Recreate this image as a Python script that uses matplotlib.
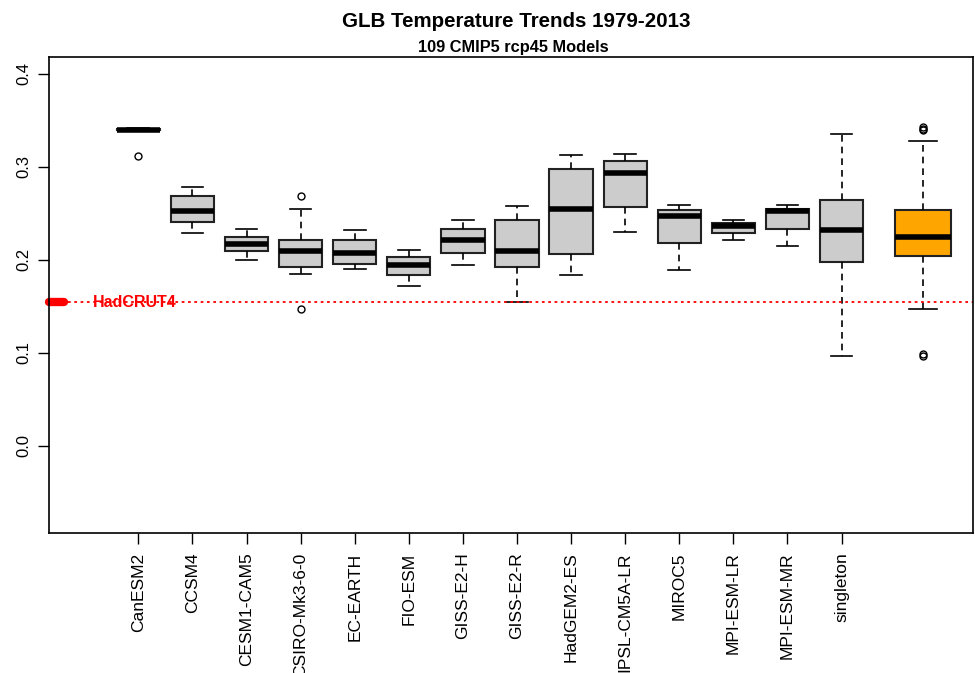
import matplotlib
matplotlib.use("Agg")
import matplotlib.pyplot as plt

plt.rcParams['font.family'] = ['Liberation Sans', 'DejaVu Sans']

# per-model trend summaries (deg C / decade)
models = ["CanESM2", "CCSM4", "CESM1-CAM5", "CSIRO-Mk3-6-0", "EC-EARTH", "FIO-ESM",
          "GISS-E2-H", "GISS-E2-R", "HadGEM2-ES", "IPSL-CM5A-LR", "MIROC5",
          "MPI-ESM-LR", "MPI-ESM-MR", "singleton"]
whislo = [0.3385, 0.229, 0.200, 0.185, 0.1905, 0.172, 0.194, 0.154, 0.183, 0.230, 0.189, 0.221, 0.215, 0.096]
q1 = [0.339, 0.241, 0.209, 0.192, 0.195, 0.183, 0.207, 0.192, 0.206, 0.257, 0.218, 0.2285, 0.233, 0.197]
med = [0.340, 0.252, 0.217, 0.209, 0.2075, 0.194, 0.221, 0.209, 0.255, 0.293, 0.247, 0.2365, 0.252, 0.232]
q3 = [0.341, 0.269, 0.2245, 0.221, 0.221, 0.203, 0.2335, 0.2425, 0.2975, 0.3065, 0.2535, 0.2395, 0.255, 0.264]
whishi = [0.342, 0.278, 0.2335, 0.254, 0.232, 0.2105, 0.2425, 0.2575, 0.313, 0.314, 0.259, 0.243, 0.259, 0.3355]
fliers = [[0.311], [], [], [0.268, 0.147], [], [], [], [], [], [], [], [], [], []]

# all 109 runs together
all_stats = dict(whislo=0.147, q1=0.204, med=0.224, q3=0.2535, whishi=0.328,
                 fliers=[0.343, 0.341, 0.339, 0.099, 0.096])

hadcrut = 0.154

fig = plt.figure(figsize=(9.75, 6.73), dpi=100)
ax = fig.add_axes([0.0503, 0.208, 0.9477, 0.7073])

stats = []
for i, m in enumerate(models):
    stats.append(dict(label=m, whislo=whislo[i], q1=q1[i], med=med[i], q3=q3[i],
                      whishi=whishi[i], fliers=fliers[i]))
pos = list(range(1, len(models) + 1))

common = dict(patch_artist=True, showfliers=True,
              whiskerprops=dict(color="black", lw=1.2, linestyle=(0, (4, 3))),
              capprops=dict(color="black", lw=1.2),
              medianprops=dict(color="black", lw=4, solid_capstyle="butt"),
              flierprops=dict(marker="o", markerfacecolor="none", markeredgecolor="black",
                              markersize=5, markeredgewidth=1))

ax.bxp(stats, positions=pos, widths=0.8, capwidths=0.4,
       boxprops=dict(facecolor="#cccccc", edgecolor="#222222", lw=1.5), **common)
all_stats["label"] = ""
ax.bxp([all_stats], positions=[15.5], widths=1.03, capwidths=0.515,
       boxprops=dict(facecolor="#FFA500", edgecolor="#222222", lw=1.5), **common)

ax.set_xlim(-0.65, 16.43)
ax.set_ylim(-0.094, 0.418)

# observed trend
ax.axhline(hadcrut, color="red", lw=1.3, linestyle=(0, (1.5, 2)))
ax.plot([-0.65, -0.38], [hadcrut, hadcrut], color="red", lw=6,
        solid_capstyle="round", clip_on=False)
ax.text(0.16, hadcrut, "HadCRUT4", color="red", fontweight="bold", fontsize=11.5,
        ha="left", va="center")

ax.set_xticks(pos)
ax.set_xticklabels(models, rotation=90, fontsize=12.5)
ax.set_yticks([0.0, 0.1, 0.2, 0.3, 0.4])
ax.set_yticklabels(["0.0", "0.1", "0.2", "0.3", "0.4"], rotation=90, va="center", fontsize=12)
ax.tick_params(direction="out", length=8, width=1)
ax.tick_params(axis="x", pad=6)
ax.tick_params(axis="y", pad=5)
for s in ax.spines.values():
    s.set_linewidth(1.2)

fig.text(516 / 975, 1 - 27 / 673, "GLB Temperature Trends 1979-2013", ha="center", va="baseline",
         fontsize=14.8, fontweight="bold")
fig.text(513 / 975, 1 - 52 / 673, "109 CMIP5 rcp45 Models", ha="center", va="baseline",
         fontsize=11.8, fontweight="bold")

fig.savefig("out.png", dpi=100)
